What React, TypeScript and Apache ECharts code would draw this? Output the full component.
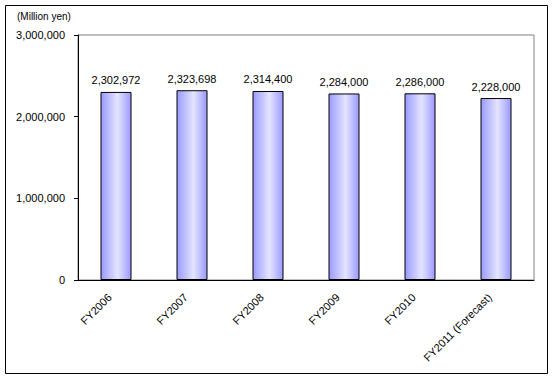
import React, { useEffect, useRef } from "react";
import * as echarts from "echarts";

const categories = ["FY2006", "FY2007", "FY2008", "FY2009", "FY2010", "FY2011 (Forecast)"];
const values = [2302972, 2323698, 2314400, 2284000, 2286000, 2228000];
const unitLabel = "(Million yen)";

const FONT = "'Liberation Sans', Arial, sans-serif";

export default function App() {
  const ref = useRef<HTMLDivElement>(null);
  useEffect(() => {
    if (!ref.current) return;
    const chart = echarts.init(ref.current, null, { renderer: "svg" });
    chart.setOption({
      animation: false,
      backgroundColor: "#ffffff",
      textStyle: { fontFamily: FONT },
      grid: {
        left: 78,
        top: 35,
        right: 19,
        bottom: 99,
        show: true,
        borderColor: "#808080",
        borderWidth: 1,
        containLabel: false,
      },
      graphic: [
        {
          type: "rect",
          shape: { x: 5.5, y: 5.5, width: 542, height: 368 },
          style: { fill: "none", stroke: "#000", lineWidth: 1 },
          z: 10,
        },
        {
          type: "text",
          left: 17,
          top: 11,
          style: { text: unitLabel, fontSize: 10, fontFamily: FONT, fill: "#000" },
        },
      ],
      xAxis: {
        type: "category",
        data: categories,
        axisLine: { show: true, lineStyle: { color: "#000", width: 1 } },
        axisTick: { show: false },
        axisLabel: {
          rotate: 45,
          fontSize: 11,
          color: "#000",
          fontFamily: FONT,
          margin: 9,
          padding: [0, 9, 0, 0],
          interval: 0,
        },
        z: 5,
      },
      yAxis: {
        type: "value",
        min: 0,
        max: 3000000,
        interval: 1000000,
        splitLine: { show: false },
        axisLine: { show: true, lineStyle: { color: "#000", width: 1 } },
        axisTick: { show: true, inside: false, length: 4, lineStyle: { color: "#000" } },
        axisLabel: {
          fontSize: 11,
          color: "#000",
          fontFamily: FONT,
          margin: 13,
          formatter: (v: number) => v.toLocaleString("en-US"),
        },
        z: 5,
      },
      series: [
        {
          type: "bar",
          data: values,
          barWidth: 31,
          itemStyle: {
            borderColor: "#000",
            borderWidth: 1,
            color: new echarts.graphic.LinearGradient(0, 0, 1, 0, [
              { offset: 0, color: "#9a9aff" },
              { offset: 0.55, color: "#e4e4ff" },
              { offset: 1, color: "#9a9aff" },
            ]),
          },
          label: {
            show: true,
            position: "top",
            distance: 6,
            fontSize: 11,
            color: "#000",
            fontFamily: FONT,
            formatter: (p: any) => Number(p.value).toLocaleString("en-US"),
          },
        },
      ],
    });
    return () => chart.dispose();
  }, []);
  return (
    <div
      ref={ref}
      style={{ position: "fixed", left: 0, top: 0, width: 553, height: 379 }}
    />
  );
}
